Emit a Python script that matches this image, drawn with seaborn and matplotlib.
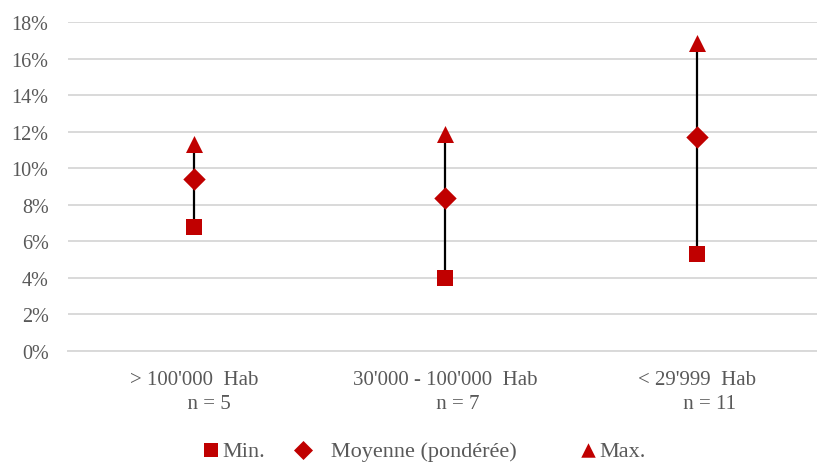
import matplotlib
matplotlib.use("Agg")
import matplotlib.pyplot as plt
import seaborn as sns
import pandas as pd
from matplotlib.ticker import PercentFormatter

categories = ["> 100'000  Hab\n      n = 5", "30'000 - 100'000  Hab\n     n = 7", "< 29'999  Hab\n     n = 11"]
min_vals = [6.8, 4.0, 5.3]
mean_vals = [9.4, 8.35, 11.7]
max_vals = [11.35, 11.85, 16.85]
series_labels = ["Min.", "   Moyenne (pondérée)      ", "Max."]

sns.set_theme(style="white")
plt.rcParams['font.family'] = ['Liberation Serif', 'DejaVu Serif']
grey = "#595959"
red = "#C00000"

fig = plt.figure(figsize=(8.17, 4.64), dpi=100)
ax = fig.add_axes([68/817, (464-352)/464, (822.5-68)/817, 329/464])

df = pd.DataFrame({"cat": categories, "min": min_vals, "mean": mean_vals, "max": max_vals})
df["x"] = range(len(categories))

ax.vlines(df["x"], df["min"], df["max"], color="black", lw=1.6, zorder=2)
sns.scatterplot(data=df, x="x", y="min", marker="s", s=140, color=red, edgecolor=red, linewidth=0, ax=ax, zorder=3, label=series_labels[0])
sns.scatterplot(data=df, x="x", y="mean", marker="D", s=130, color=red, edgecolor=red, linewidth=0, ax=ax, zorder=3, label=series_labels[1])
sns.scatterplot(data=df, x="x", y="max", marker="^", s=150, color=red, edgecolor=red, linewidth=0, ax=ax, zorder=3, label=series_labels[2])

ax.set_xlim(-0.5, len(categories) - 0.5)
ax.set_ylim(0, 18)
ax.set_yticks(range(0, 19, 2))
ax.yaxis.set_major_formatter(PercentFormatter(decimals=0))
ax.set_xticks(df["x"])
ax.set_xticklabels(categories, fontsize=15, color=grey, linespacing=1.32)
ax.set_xticks([-0.5, 0.5, 1.5, 2.5], minor=True)
ax.tick_params(axis="x", which="major", length=0, pad=14)
ax.tick_params(axis="x", which="minor", length=5, color="#d9d9d9", width=1)
ax.tick_params(axis="y", length=0, pad=14, labelsize=14.5, labelcolor=grey)
ax.set_xlabel("")
ax.set_ylabel("")
ax.grid(axis="y", color="#d9d9d9", lw=1.4)
ax.set_axisbelow(True)
for s in ["top", "right", "left"]:
    ax.spines[s].set_visible(False)
ax.spines["bottom"].set_color("#d9d9d9")
ax.spines["bottom"].set_linewidth(1.4)

leg = ax.legend(loc="center", bbox_to_anchor=((424-68)/754.5, -(452-352)/329), ncol=3, frameon=False,
                fontsize=16, handletextpad=0.1, columnspacing=1.3, markerscale=0.85, borderaxespad=0,
                handlelength=0.8)
for t in leg.get_texts():
    t.set_color(grey)

fig.savefig("out.png", dpi=100)
